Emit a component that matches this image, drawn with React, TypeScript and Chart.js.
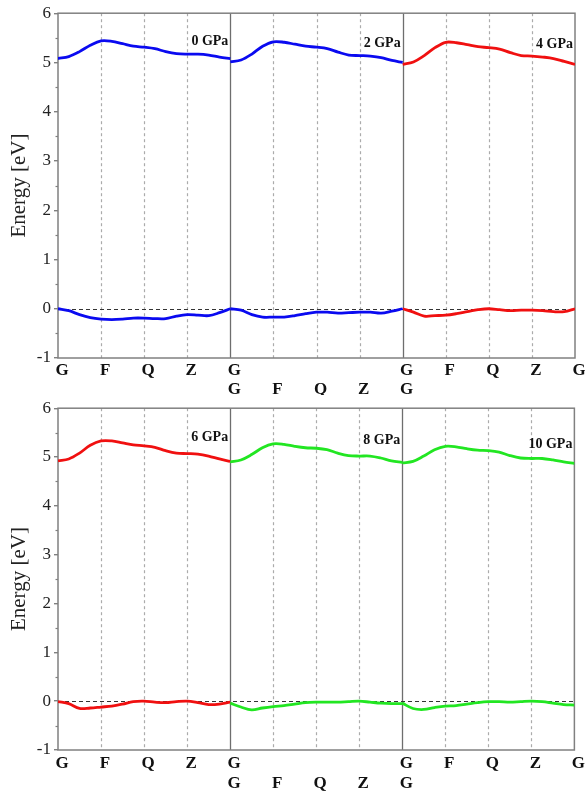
import { useEffect, useRef } from "react";
import { Chart, registerables } from "chart.js";
Chart.register(...registerables);

const SERIF = "'Liberation Serif', 'Times New Roman', serif";

// k-path tick labels (two label lines under each row)
const kTicks = [0, 1, 2, 3, 4, 5, 6, 7, 8, 9, 10, 11, 12];
const kLine1 = ["G", "F", "Q", "Z", "G", "", "", "", "G", "F", "Q", "Z", "G"];
const kLine2 = ["", "", "", "", "G", "F", "Q", "Z", "G", "", "", "", ""];
const yTicks = [-1, 0, 1, 2, 3, 4, 5, 6];

const pressureLabels = ["0 GPa", "2 GPa", "4 GPa", "6 GPa", "8 GPa", "10 GPa"];
const labelY = [5.43, 5.39, 5.37, 5.41, 5.35, 5.25];
const seriesColors = ["#0a0af0", "#0a0af0", "#f01010", "#f01010", "#22e622", "#22e622"];

// sampled along each segment G-F-Q-Z-G, every quarter of a segment
const cb0 = [5.08, 5.12, 5.22, 5.35, 5.44, 5.43, 5.38, 5.33, 5.31, 5.28, 5.22, 5.18, 5.17, 5.17, 5.15, 5.11, 5.08];
const vb0 = [0.0, -0.04, -0.12, -0.18, -0.21, -0.22, -0.21, -0.19, -0.19, -0.2, -0.2, -0.15, -0.12, -0.13, -0.14, -0.08, 0.0];
const cb2 = [5.01, 5.05, 5.17, 5.33, 5.42, 5.41, 5.37, 5.33, 5.31, 5.28, 5.21, 5.15, 5.14, 5.13, 5.1, 5.04, 5.0];
const vb2 = [0.0, -0.03, -0.12, -0.17, -0.17, -0.17, -0.14, -0.1, -0.07, -0.07, -0.09, -0.08, -0.07, -0.07, -0.09, -0.05, 0.0];
const cb4 = [4.96, 5.01, 5.14, 5.3, 5.41, 5.4, 5.36, 5.32, 5.3, 5.27, 5.2, 5.14, 5.13, 5.11, 5.08, 5.02, 4.96];
const vb4 = [0.0, -0.07, -0.15, -0.14, -0.13, -0.1, -0.06, -0.02, 0.0, -0.02, -0.04, -0.03, -0.03, -0.04, -0.06, -0.06, 0.0];
const cb6 = [4.92, 4.96, 5.08, 5.24, 5.33, 5.33, 5.29, 5.25, 5.23, 5.2, 5.13, 5.08, 5.07, 5.06, 5.02, 4.96, 4.91];
const vb6 = [-0.01, -0.05, -0.15, -0.14, -0.12, -0.1, -0.06, -0.01, 0.0, -0.02, -0.03, -0.01, 0.0, -0.03, -0.07, -0.06, -0.02];
const cb8 = [4.9, 4.94, 5.05, 5.19, 5.27, 5.26, 5.22, 5.19, 5.18, 5.15, 5.08, 5.03, 5.02, 5.02, 4.98, 4.92, 4.89];
const vb8 = [-0.04, -0.12, -0.18, -0.14, -0.11, -0.09, -0.06, -0.03, -0.02, -0.02, -0.02, -0.01, 0.0, -0.02, -0.04, -0.05, -0.05];
const cb10 = [4.88, 4.91, 5.02, 5.15, 5.22, 5.21, 5.17, 5.14, 5.13, 5.1, 5.03, 4.98, 4.97, 4.97, 4.94, 4.9, 4.87];
const vb10 = [-0.04, -0.15, -0.17, -0.13, -0.1, -0.09, -0.06, -0.03, -0.01, -0.01, -0.02, -0.01, 0.0, -0.01, -0.04, -0.07, -0.08];

const conduction = [cb0, cb2, cb4, cb6, cb8, cb10];
const valence = [vb0, vb2, vb4, vb6, vb8, vb10];

type RowLayout = { height: number; padTop: number; axisH: number; labelPad: number; lineH: number };

function makeConfig(row: number, lay: RowLayout): any {
  const datasets: any[] = [];
  for (let p = 0; p < 3; p++) {
    const idx = row * 3 + p;
    for (const band of [conduction[idx], valence[idx]]) {
      datasets.push({
        data: band.map((y, i) => ({ x: p * 4 + i * 0.25, y })),
        borderColor: seriesColors[idx],
        borderWidth: 2.8,
        pointRadius: 0,
        tension: 0.35,
        fill: false,
      });
    }
  }

  const framePlugin = {
    id: "frame" + row,
    beforeDatasetsDraw(chart: any) {
      const { ctx, chartArea, scales } = chart;
      const { left, right, top, bottom } = chartArea;
      const xs = scales.x;
      const ys = scales.y;
      ctx.save();
      for (const v of kTicks) {
        if (v === 0 || v === 12) continue;
        const px = Math.round(xs.getPixelForValue(v)) + 0.5;
        ctx.beginPath();
        if (v % 4 === 0) {
          ctx.setLineDash([]);
          ctx.strokeStyle = "#6e6e6e";
          ctx.lineWidth = 1.3;
        } else {
          ctx.setLineDash([3, 3]);
          ctx.strokeStyle = "#ababab";
          ctx.lineWidth = 1.2;
        }
        ctx.moveTo(px, top);
        ctx.lineTo(px, bottom);
        ctx.stroke();
      }
      // zero (Fermi) level
      const y0 = Math.round(ys.getPixelForValue(0)) + 0.5;
      ctx.setLineDash([4, 3]);
      ctx.strokeStyle = "#333";
      ctx.lineWidth = 1;
      ctx.beginPath();
      ctx.moveTo(left, y0);
      ctx.lineTo(right, y0);
      ctx.stroke();
      // minor ticks
      ctx.setLineDash([]);
      ctx.strokeStyle = "#808080";
      ctx.lineWidth = 1.2;
      for (let i = 0; i < yTicks.length - 1; i++) {
        const py = Math.round(ys.getPixelForValue((yTicks[i] + yTicks[i + 1]) / 2)) + 0.5;
        ctx.beginPath();
        ctx.moveTo(left - 2.5, py);
        ctx.lineTo(left, py);
        ctx.stroke();
      }
      // frame
      ctx.strokeStyle = "#808080";
      ctx.lineWidth = 1.5;
      ctx.strokeRect(left, top, right - left, bottom - top);
      ctx.restore();
    },
    afterDatasetsDraw(chart: any) {
      const { ctx, scales } = chart;
      ctx.save();
      ctx.font = "bold 14px " + SERIF;
      ctx.fillStyle = "#111";
      ctx.textAlign = "right";
      ctx.textBaseline = "middle";
      for (let p = 0; p < 3; p++) {
        const idx = row * 3 + p;
        const px = scales.x.getPixelForValue((p + 1) * 4) - 2;
        const py = scales.y.getPixelForValue(labelY[idx]);
        ctx.fillText(pressureLabels[idx], px, py);
      }
      ctx.restore();
    },
  };

  return {
    type: "line",
    data: { datasets },
    plugins: [framePlugin],
    options: {
      animation: false,
      responsive: false,
      devicePixelRatio: 1,
      layout: { padding: { left: 0, right: 10, top: lay.padTop, bottom: 0 } },
      plugins: { legend: { display: false }, tooltip: { enabled: false } },
      scales: {
        x: {
          type: "linear",
          min: 0,
          max: 12,
          afterBuildTicks(scale: any) {
            scale.ticks = kTicks.map((v) => ({ value: v }));
          },
          afterFit(scale: any) {
            scale.height = lay.axisH;
          },
          grid: { display: false, drawTicks: false },
          border: { display: false },
          ticks: {
            autoSkip: false,
            maxRotation: 0,
            padding: lay.labelPad,
            labelOffset: 4,
            color: "#111",
            font: { family: SERIF, size: 17, weight: "bold", lineHeight: lay.lineH },
            callback: (_v: any, i: number) => [kLine1[i], kLine2[i]],
          },
        },
        y: {
          min: -1,
          max: 6,
          afterBuildTicks(scale: any) {
            scale.ticks = yTicks.map((v) => ({ value: v }));
          },
          afterFit(scale: any) {
            scale.width = 58;
          },
          grid: { display: true, drawOnChartArea: false, drawTicks: true, tickLength: 4, color: "#808080", lineWidth: 1.4 },
          border: { display: false },
          ticks: {
            padding: 3,
            color: "#222",
            font: { family: SERIF, size: 17 },
          },
          title: {
            display: true,
            text: "Energy [eV]",
            color: "#222",
            font: { family: SERIF, size: 21 },
            padding: { top: 7, bottom: 0 },
          },
        },
      },
    },
  };
}

function BandRow({ row, top, lay }: { row: number; top: number; lay: RowLayout }) {
  const ref = useRef<HTMLCanvasElement | null>(null);
  useEffect(() => {
    if (!ref.current) return;
    const chart = new Chart(ref.current, makeConfig(row, lay));
    return () => chart.destroy();
  }, [row]);
  return (
    <canvas
      ref={ref}
      width={585}
      height={lay.height}
      style={{ position: "absolute", left: 0, top, width: 585, height: lay.height, display: "block" }}
    />
  );
}

export default function App() {
  return (
    <div style={{ position: "absolute", left: 0, top: 0, width: 585, height: 791, background: "#fff" }}>
      <BandRow row={0} top={0} lay={{ height: 395, padTop: 12, axisH: 37, labelPad: 3, lineH: 1.12 }} />
      <BandRow row={1} top={395} lay={{ height: 396, padTop: 9, axisH: 41, labelPad: 4, lineH: 1.17 }} />
    </div>
  );
}
